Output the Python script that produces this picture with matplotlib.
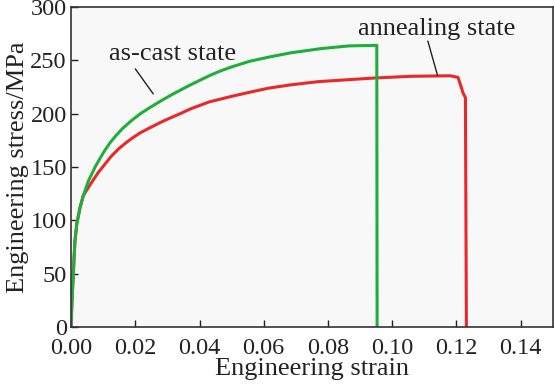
import matplotlib
matplotlib.use("Agg")
import matplotlib.pyplot as plt

# as-cast state
cast_strain = [0, 0.0003, 0.0007, 0.0012, 0.0018, 0.0028, 0.0038, 0.0054, 0.0075, 0.0090,
               0.0106, 0.0122, 0.0140, 0.0160, 0.019, 0.0216, 0.0247, 0.0280, 0.0309, 0.0340,
               0.0372, 0.0430, 0.0465, 0.0497, 0.0555, 0.0616, 0.0684, 0.078, 0.0866, 0.0952,
               0.0953]
cast_stress = [0, 25, 50, 80, 97, 112, 123, 137, 150, 158,
               166, 173, 179.5, 186, 194, 200, 206, 212, 217, 222,
               227, 235.5, 240, 243.5, 249, 253, 257, 261, 263.5, 264,
               0]

# annealing state
anneal_strain = [0, 0.0003, 0.0007, 0.0012, 0.0018, 0.0028, 0.0038, 0.0048, 0.0065, 0.0085,
                 0.0101, 0.0125, 0.0148, 0.0170, 0.019, 0.0215, 0.0247, 0.0280, 0.0309, 0.0340,
                 0.0372, 0.043, 0.0497, 0.0555, 0.0617, 0.0684, 0.077, 0.0872, 0.095, 0.106,
                 0.118, 0.1205, 0.1221, 0.1228, 0.1231]
anneal_stress = [0, 25, 50, 80, 97, 112, 123, 128, 136, 145,
                 151, 160, 167, 172.5, 177, 182, 187, 192, 196, 200,
                 204.5, 211, 216, 220, 224, 227, 230, 232, 233.5, 235,
                 235.5, 234, 219, 215, 0]

xticks = [0.00, 0.02, 0.04, 0.06, 0.08, 0.10, 0.12, 0.14]
yticks = [0, 50, 100, 150, 200, 250, 300]

plt.rcParams['font.family'] = ['Liberation Serif', 'DejaVu Serif']

fig = plt.figure(figsize=(5.55, 3.84), dpi=100)
ax = fig.add_axes([0.128, 0.148, 0.868, 0.834])
ax.set_facecolor('#f8f8f8')

ax.plot(anneal_strain, anneal_stress, color='#e8282a', lw=2.2, solid_joinstyle='round')
ax.plot(cast_strain, cast_stress, color='#1fae3c', lw=2.2, solid_joinstyle='round')

ax.set_xlim(0, 0.15)
ax.set_ylim(0, 300)
ax.set_xticks(xticks)
ax.set_xticklabels([f"{t:.2f}" for t in xticks])
ax.set_yticks(yticks)
ax.tick_params(direction='in', length=5, width=1, colors='#222222')
ax.tick_params(axis='x', labelsize=17.5, pad=8)
ax.tick_params(axis='y', labelsize=17.5, pad=3)
for s in ax.spines.values():
    s.set_color('#333333')
    s.set_linewidth(1.2)

ax.set_xlabel('Engineering strain', fontsize=19, labelpad=-1, color='#222222')
ax.set_ylabel('Engineering stress/MPa', fontsize=19, labelpad=1, color='#222222')

ax.text(0.0315, 256, 'as-cast state', fontsize=19, ha='center', va='center', color='#222222')
ax.annotate('', xy=(0.0256, 218.5), xytext=(0.0200, 242),
            arrowprops=dict(arrowstyle='-', color='#222222', lw=1.0, shrinkA=0, shrinkB=0))
ax.text(0.114, 279, 'annealing state', fontsize=19, ha='center', va='center', color='#222222')
ax.annotate('', xy=(0.1141, 236), xytext=(0.1111, 268),
            arrowprops=dict(arrowstyle='-', color='#222222', lw=1.0, shrinkA=0, shrinkB=0))

fig.savefig('out.png', dpi=100)
